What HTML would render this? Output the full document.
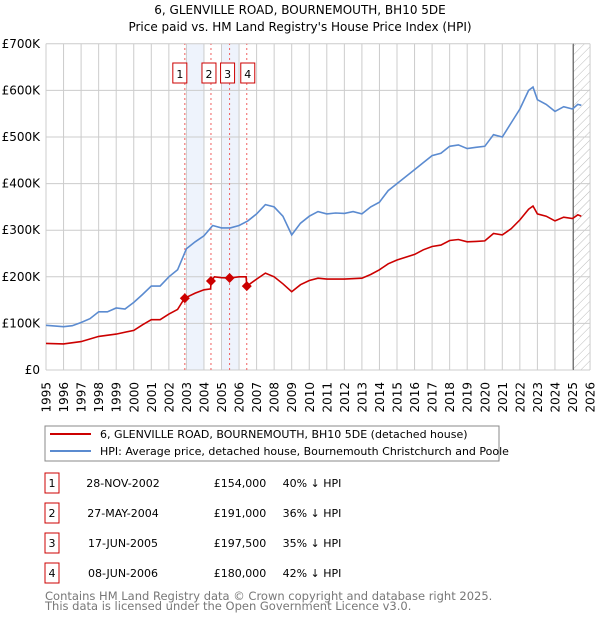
<!DOCTYPE html>
<html><head><meta charset="utf-8"><style>
body{margin:0;background:#fff;font-family:"DejaVu Sans","Liberation Sans",sans-serif;}
svg{display:block}
</style></head><body>
<svg id="chart" width="600" height="620" xmlns="http://www.w3.org/2000/svg" font-family="DejaVu Sans, Liberation Sans, sans-serif">
<text x="300" y="14" text-anchor="middle" font-size="12">6, GLENVILLE ROAD, BOURNEMOUTH, BH10 5DE</text>
<text x="300" y="31" text-anchor="middle" font-size="12">Price paid vs. HM Land Registry's House Price Index (HPI)</text>
<defs><pattern id="hatch" patternUnits="userSpaceOnUse" width="6" height="6" patternTransform="rotate(45)"><line x1="0" y1="0" x2="0" y2="6" stroke="#bbb" stroke-width="1"/></pattern></defs>
<g id="grid"></g><g id="marks"></g><g id="axes"></g>
<rect x="45" y="426" width="454" height="35" fill="#fff" stroke="#888"/>
<line x1="50" y1="434" x2="91" y2="434" stroke="#cc0000" stroke-width="2"/>
<text x="100" y="438" font-size="11">6, GLENVILLE ROAD, BOURNEMOUTH, BH10 5DE (detached house)</text>
<line x1="50" y1="451" x2="91" y2="451" stroke="#5b8bd0" stroke-width="2"/>
<text x="100" y="455" font-size="11">HPI: Average price, detached house, Bournemouth Christchurch and Poole</text>
<g id="table" font-size="11"></g>
<text x="45" y="600" font-size="11.5" fill="#777">Contains HM Land Registry data © Crown copyright and database right 2025.</text>
<text x="45" y="610" font-size="11.5" fill="#777">This data is licensed under the Open Government Licence v3.0.</text>
</svg>
<script>
const hpiYears=[1995,1996,1996.5,1997,1997.5,1998,1998.5,1999,1999.5,2000,2000.5,2001,2001.5,2002,2002.5,2003,2003.5,2004,2004.5,2005,2005.5,2006,2006.5,2007,2007.5,2008,2008.5,2009,2009.5,2010,2010.5,2011,2011.5,2012,2012.5,2013,2013.5,2014,2014.5,2015,2015.5,2016,2016.5,2017,2017.5,2018,2018.5,2019,2019.5,2020,2020.5,2021,2021.5,2022,2022.5,2022.75,2023,2023.5,2024,2024.5,2025,2025.3,2025.5];
const hpiValues=[96,93,95,102,110,125,125,133,131,145,162,180,180,200,215,260,275,288,310,305,305,310,320,335,355,350,330,290,315,330,340,335,337,336,340,335,350,360,385,400,415,430,445,460,465,480,483,475,478,480,505,500,530,560,600,607,580,570,555,565,560,570,568];
const propYears=[1995,1996,1997,1998,1999,2000,2000.5,2001,2001.5,2002,2002.5,2002.9,2003.5,2004,2004.38,2004.41,2004.6,2005,2005.46,2006,2006.4,2006.44,2007,2007.5,2008,2008.5,2009,2009.5,2010,2010.5,2011,2012,2013,2013.5,2014,2014.5,2015,2016,2016.5,2017,2017.5,2018,2018.5,2019,2019.5,2020,2020.5,2021,2021.5,2022,2022.5,2022.75,2023,2023.5,2024,2024.5,2025,2025.3,2025.5];
const propValues=[57,56,61,72,77,85,97,108,108,120,130,154,165,172,174,191,200,198,197.5,200,200,180,195,208,200,185,168,183,192,197,195,195,197,205,215,228,236,248,258,265,268,278,280,275,276,277,293,290,303,322,345,352,335,330,320,328,325,333,330];
const saleLabels=["1","2","3","4"];
const saleYears=[2002.91,2004.40,2005.46,2006.44];
const saleValues=[154,191,197.5,180];
const saleDates=["28-NOV-2002","27-MAY-2004","17-JUN-2005","08-JUN-2006"];
const salePrices=["£154,000","£191,000","£197,500","£180,000"];
const saleDiffs=["40% ↓ HPI","36% ↓ HPI","35% ↓ HPI","42% ↓ HPI"];
const yTicks=[0,100,200,300,400,500,600,700];
const yTickLabels=["£0","£100K","£200K","£300K","£400K","£500K","£600K","£700K"];
const xTicks=[1995,1996,1997,1998,1999,2000,2001,2002,2003,2004,2005,2006,2007,2008,2009,2010,2011,2012,2013,2014,2015,2016,2017,2018,2019,2020,2021,2022,2023,2024,2025,2026];

const NS="http://www.w3.org/2000/svg";
const X0=46,PX=17.55,Y0=370,PY=0.466;
const x=y=>X0+(y-1995)*PX;
const yv=v=>Y0-v*PY;
function mk(tag,attrs,parent,text){const e=document.createElementNS(NS,tag);for(const k in attrs)e.setAttribute(k,attrs[k]);if(text!==undefined)e.textContent=text;parent.appendChild(e);return e;}
const grid=document.getElementById('grid'),marks=document.getElementById('marks'),axes=document.getElementById('axes'),table=document.getElementById('table');
const right=x(2026);
[[2003,2004],[2005,2006]].forEach((b,i)=>{const r=mk('rect',{x:x(b[0]),y:yv(700),width:x(b[1])-x(b[0]),height:yv(0)-yv(700),fill:'#eef3fc'},grid);

});
const h=mk('rect',{x:x(2025.05),y:yv(700),width:right-x(2025.05),height:yv(0)-yv(700),fill:'url(#hatch)'},grid);


yTicks.forEach((t,i)=>{const l=mk('line',{x1:X0,x2:right,y1:yv(t),y2:yv(t),stroke:'#ccc'},grid);


const tx=mk('text',{x:X0-6,y:yv(t)+4,'text-anchor':'end','font-size':12},axes,yTickLabels[i]);

});
xTicks.forEach(t=>{const l=mk('line',{x1:x(t),x2:x(t),y1:yv(0),y2:yv(700),stroke:'#ccc'},grid);


const tx=mk('text',{x:0,y:0,'text-anchor':'end','font-size':12,transform:`translate(${x(t)+4.5},382) rotate(-90)`},axes,String(t));

});
const hl=mk('line',{x1:x(2025.05),x2:x(2025.05),y1:yv(0),y2:yv(700),stroke:'#666'},grid);


saleYears.forEach((s,i)=>{const l=mk('line',{x1:x(s),x2:x(s),y1:yv(0),y2:yv(700),stroke:'#f06060','stroke-dasharray':'2,3'},marks);


const bx=mk('rect',{x:x(s)-(i==0?5:i==3?-1:2)-7,y:63,width:14,height:20,fill:'#fff',stroke:'#cc0000'},marks);


const t=mk('text',{x:+bx.getAttribute('x')+7,y:78,'text-anchor':'middle','font-size':11},marks,saleLabels[i]);

});
function path(xs,vs,color,name){let d=xs.map((a,i)=>(i?'L':'M')+x(a).toFixed(1)+','+yv(vs[i]).toFixed(1)).join('');
const p=mk('path',{d:d,fill:'none',stroke:color,'stroke-width':1.6},marks);

}
path(hpiYears,hpiValues,'#5b8bd0','hpi-line');
path(propYears,propValues,'#cc0000','property-price-line');
saleYears.forEach((s,i)=>{const cx=x(s),cy=yv(saleValues[i]);
const p=mk('path',{d:`M${cx},${cy-5}L${cx+5},${cy}L${cx},${cy+5}L${cx-5},${cy}Z`,fill:'#cc0000'},marks);

});
saleLabels.forEach((s,i)=>{const cy=483+i*30;
const b=mk('rect',{x:45,y:cy-10,width:14,height:20,fill:'#fff',stroke:'#cc0000'},table);


const a=mk('text',{x:52,y:cy+4,'text-anchor':'middle'},table,s);


const d=mk('text',{x:123,y:cy+4,'text-anchor':'middle'},table,saleDates[i]);


const p=mk('text',{x:240,y:cy+4,'text-anchor':'middle'},table,salePrices[i]);


const f=mk('text',{x:312,y:cy+4,'text-anchor':'middle'},table,saleDiffs[i]);

});
</script>
</body></html>
